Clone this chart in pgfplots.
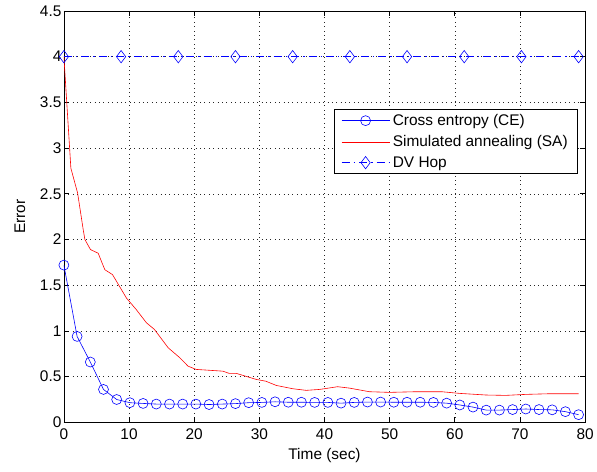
\documentclass[border=0pt]{standalone}
\usepackage{pgfplots}
\pgfplotsset{compat=1.18}
\usepackage{fontspec}
\setmainfont{Liberation Sans}
\begin{document}
\begin{tikzpicture}
\begin{axis}[
  scale only axis,
  width=522bp, height=412bp,
  xmin=0, xmax=80, ymin=0, ymax=4.5,
  xtick={0,10,...,80},
  ytick={0,0.5,...,4.5},
  yticklabels={0,0.5,1,1.5,2,2.5,3,3.5,4,4.5},
  /pgf/number format/assume math mode=true,
  tick label style={font=\fontsize{15.5}{17}\selectfont, black},
  xticklabel style={yshift=-3bp},
  yticklabel style={xshift=1bp},
  xlabel={Time (sec)},
  ylabel={Error},
  every axis x label/.style={at={(axis description cs:0.5,0)}, anchor=center, yshift=-33bp, font=\fontsize{15.5}{17}\selectfont},
  every axis y label/.style={at={(axis description cs:-0.0843,0.5)}, rotate=90, anchor=center, font=\fontsize{15.5}{17}\selectfont},
  grid=major,
  major grid style={black!85, dash pattern=on 0.8bp off 3.6bp, line width=0.6pt},
  axis line style={black, line width=0.7pt},
  tick style={black, line width=0.7pt},
  major tick length=5bp,
  tick align=inside,
  legend style={at={(rel axis cs:0.9866,0.762)}, anchor=north east,
    draw=black, line width=0.9pt, font=\fontsize{15.5}{17}\selectfont,
    inner xsep=7bp, inner ysep=2bp, row sep=2.5bp, cells={anchor=west},
    nodes={inner sep=3bp}},
  legend cell align=left,
  legend image code/.code={
    \draw[mark repeat=2,mark phase=2] plot coordinates {(0bp,0bp) (24bp,0bp) (48bp,0bp)};
  },
]
\addplot[color=blue, line width=0.6pt, mark=o, mark size=5bp, mark options={solid, line width=0.6pt}] coordinates {
(0.000,1.72) (2.026,0.94) (4.051,0.66) (6.077,0.36) (8.103,0.25) (10.128,0.215) (12.154,0.207) (14.179,0.200) (16.205,0.200) (18.231,0.200)
(20.256,0.200) (22.282,0.195) (24.308,0.200) (26.333,0.205) (28.359,0.215) (30.385,0.218) (32.410,0.225) (34.436,0.220) (36.462,0.220) (38.487,0.218)
(40.513,0.218) (42.538,0.210) (44.564,0.218) (46.590,0.222) (48.615,0.222) (50.641,0.220) (52.667,0.220) (54.692,0.220) (56.718,0.218) (58.744,0.210)
(60.769,0.190) (62.795,0.167) (64.821,0.134) (66.846,0.134) (68.872,0.140) (70.897,0.146) (72.923,0.140) (74.949,0.137) (76.974,0.117) (79.000,0.084)
};
\addlegendentry{Cross entropy (CE)}
\addplot[color=red, line width=0.6pt, no marks] coordinates {
(0,4.0) (1.07,2.78) (2.1,2.51) (2.96,2.11) (3.22,2.0) (4.08,1.89) (5.26,1.85) (6.28,1.67) (7.46,1.616) (9.6,1.36)
(11.1,1.234) (12.67,1.089) (13.9,1.016) (16.0,0.816) (17.8,0.706) (19.05,0.615) (20.3,0.579) (24.4,0.56) (25.4,0.535) (26.5,0.535)
(29.5,0.47) (31.0,0.45) (32.6,0.404) (35.1,0.368) (37.2,0.35) (39.2,0.36) (40.0,0.368) (42.0,0.39) (43.8,0.375) (46.9,0.335)
(50.0,0.328) (54.0,0.335) (58.0,0.335) (60.7,0.317) (64.8,0.299) (67.8,0.295) (70.9,0.306) (74.5,0.313) (79.0,0.313)
};
\addlegendentry{Simulated annealing (SA)}
\addplot[color=blue, line width=0.6pt, dash pattern=on 8bp off 4bp on 1.5bp off 4bp, mark=diamond, mark size=6.2bp, mark options={solid, line width=0.6pt}] coordinates {
(0,4) (8.778,4) (17.556,4) (26.333,4) (35.111,4) (43.889,4) (52.667,4) (61.444,4) (70.222,4) (79,4)
};
\addlegendentry{DV Hop}
\end{axis}
\path ([shift={(-64bp,-49bp)}]current axis.south west) rectangle ([shift={(11bp,11bp)}]current axis.north east);
\end{tikzpicture}
\end{document}
